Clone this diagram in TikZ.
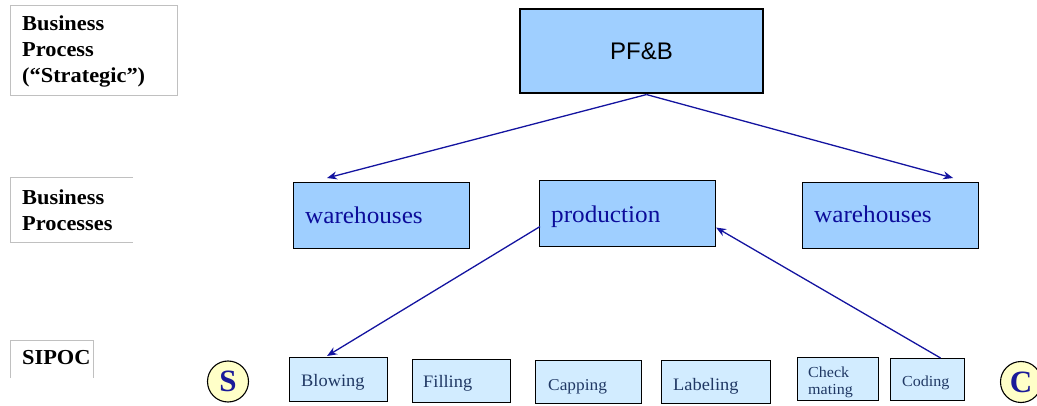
\documentclass[tikz,border=0pt]{standalone}
\usepackage{fontspec}
\setmainfont{Liberation Serif}
\newfontfamily\cam[FakeStretch=1.05]{Liberation Serif}
\newfontfamily\camn{Liberation Serif}
\newfontfamily\arialf{Liberation Sans}
\usetikzlibrary{arrows.meta,calc}
\definecolor{boxblue}{HTML}{9FCFFF}
\definecolor{lightbox}{HTML}{D2ECFF}
\definecolor{midtext}{HTML}{0C0C9A}
\definecolor{bottext}{HTML}{203864}
\definecolor{arrowblue}{HTML}{1414A0}
\definecolor{framegray}{HTML}{C0C0C0}
\definecolor{circfill}{HTML}{FFFFC8}
\definecolor{circtext}{HTML}{1A1A99}
\begin{document}
\begin{tikzpicture}[x=1pt,y=-1pt,
  frame/.style={draw=framegray, line width=0.8pt},
  labtext/.style={anchor=north west, inner sep=0pt, align=left,
    font=\cam\bfseries\fontsize{21.3}{26}\selectfont, text=black},
  topbox/.style={draw=black, line width=1.1pt, fill=boxblue,
    minimum width=243pt, minimum height=84pt, inner sep=0pt,
    font=\arialf\fontsize{24}{28}\selectfont, text=black},
  midbox/.style={draw=black, line width=1.1pt, fill=boxblue,
    minimum width=176pt, minimum height=66pt, anchor=north west},
  midtxt/.style={anchor=base west, inner sep=0pt,
    font=\cam\fontsize{24}{28}\selectfont, text=midtext},
  botbox/.style={draw=black, line width=1.1pt, fill=lightbox,
    anchor=north west},
  bottxt/.style={anchor=base west, inner sep=0pt, align=left,
    font=\cam\fontsize{17.5}{20}\selectfont, text=bottext},
  sipoc/.style={circle, draw=black, line width=1.1pt, fill=circfill,
    minimum size=41pt, inner sep=0pt,
    font=\camn\bfseries\fontsize{31}{34}\selectfont, text=circtext},
  arr/.style={draw=arrowblue, line width=1.3pt,
    -{Stealth[length=10pt,width=8pt]}}]
\useasboundingbox (0,0) rectangle (1037,406);

% left level labels
\draw[frame] (10,5) rectangle (177,95);
\node[labtext] (t1) at (22,15.5) {Business\\Process\\(“Strategic”)};
\draw[frame] (133,177) -- (10,177) -- (10,242) -- (133,242);
\node[labtext] (t2) at (22,189.5) {Business\\Processes};
\draw[frame] (10,378) -- (10,340) -- (93,340) -- (93,378);
\node[labtext] (t3) at (22,350.5) {SIPOC};

% top
\node[topbox] (pfb) at (641.5,51) {PF\&B};

% middle
\node[midbox] (whl) at (293,182) {};
\node[midtxt] (whlt) at ($(whl.north west)+(12,42)$) {warehouses};
\node[midbox] (prod) at (539,180) {};
\node[midtxt] (prodt) at ($(prod.north west)+(12,43)$) {production};
\node[midbox] (whr) at (802,182) {};
\node[midtxt] (whrt) at ($(whr.north west)+(12,41)$) {warehouses};

% bottom
\node[botbox, minimum width=98pt, minimum height=44pt] (blow) at (289,357) {};
\node[bottxt] (blowt) at ($(blow.north west)+(12,29)$) {Blowing};
\node[botbox, minimum width=98pt, minimum height=43pt] (fill) at (412,359) {};
\node[bottxt] (fillt) at ($(fill.north west)+(11,29)$) {Filling};
\node[botbox, minimum width=106pt, minimum height=43pt] (cap) at (535,360) {};
\node[bottxt, font=\cam\fontsize{16.5}{19}\selectfont] (capt) at ($(cap.north west)+(13,30)$) {Capping};
\node[botbox, minimum width=109pt, minimum height=43pt] (lab) at (661,360) {};
\node[bottxt] (labt) at ($(lab.north west)+(12,30)$) {Labeling};
\node[botbox, minimum width=81pt, minimum height=43pt] (chk) at (797,357) {};
\node[bottxt, anchor=north west, font=\cam\fontsize{15.3}{17}\selectfont] (chkt) at ($(chk.north west)+(11,10)$) {Check\\mating};
\node[botbox, minimum width=74pt, minimum height=42pt] (cod) at (890,358) {};
\node[bottxt, font=\cam\fontsize{15.3}{17}\selectfont] (codt) at ($(cod.north west)+(12,28)$) {Coding};

% S and C
\node[sipoc] (s) at (228,381.5) {S};
\node[sipoc] (c) at (1021,382) {C};

% connectors
\coordinate (a0) at ($(pfb.south)+(5,1)$);
\draw[arr] (a0) -- ($(whl.north west)+(34,-4)$);
\draw[arr] (a0) -- ($(whr.north east)+(-26,-4)$);
\draw[arr] ($(prod.west)+(1,13)$) -- ($(blow.north west)+(38,-1)$);
\draw[arr] ($(cod.north)+(13,0)$) -- ($(prod.east)+(0,14)$);
\end{tikzpicture}
\end{document}
